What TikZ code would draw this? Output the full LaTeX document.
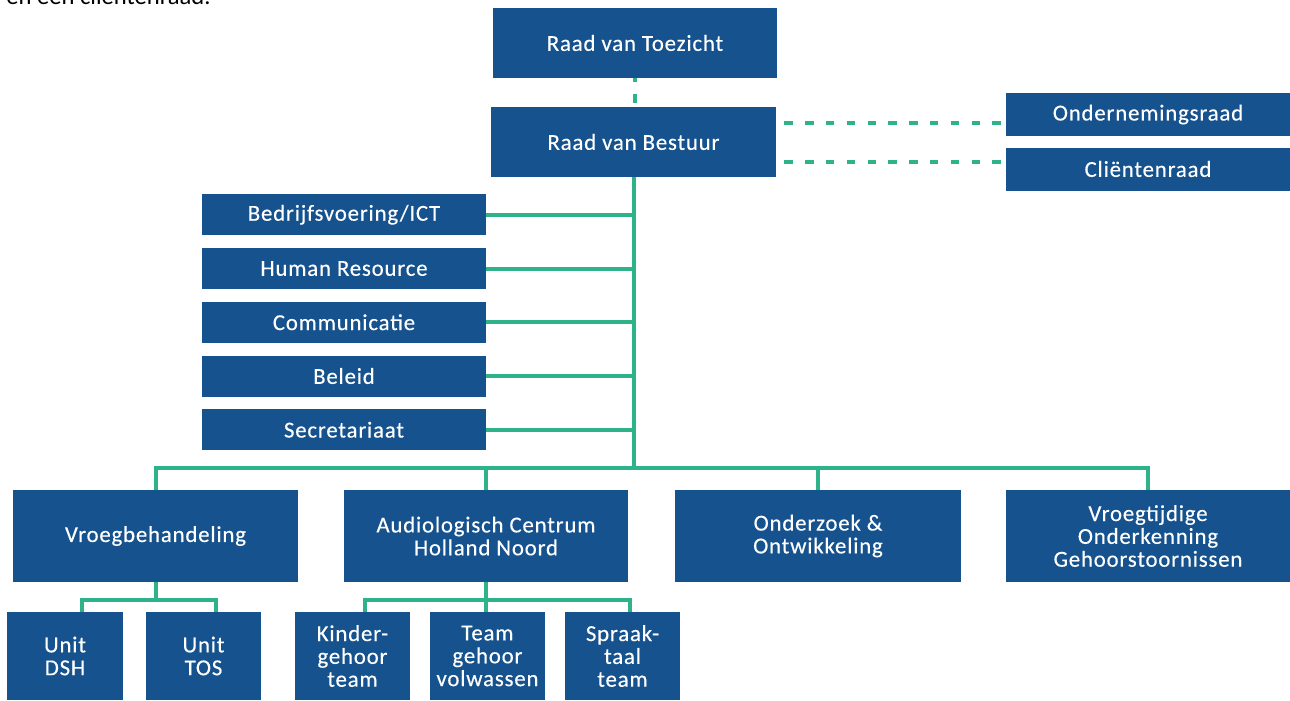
\documentclass[tikz,border=0pt]{standalone}
\usepackage{fontspec}
\setmainfont{Carlito}
\newfontfamily\orgfont[FakeBold=0.3, LetterSpace=3.5]{Carlito}
\newcommand\orgsize{\fontsize{13}{13}\selectfont\lineskiplimit=-20pt\relax}
\usetikzlibrary{calc}
\definecolor{orgblauw}{RGB}{22,82,142}
\definecolor{orggroen}{RGB}{46,178,138}
\tikzset{
 orgbox/.style={fill=orgblauw, text=white, inner sep=0pt, align=center, font=\orgfont\orgsize},
 orgline/.style={orggroen, line width=0.08cm},
 dashlink/.style={orggroen, line width=0.08cm, dash pattern=on 0.17cm off 0.246cm}
}
\begin{document}
\begin{tikzpicture}[x=0.02cm, y=-0.02cm]
\useasboundingbox (0,0) rectangle (1290,700);
\clip (0,0) rectangle (1290,700);
\node[anchor=base west, inner sep=0pt, font=\fontsize{14}{14}\selectfont] (intro) at (6,4) {en een cliëntenraad.};
% bestuur
\node[orgbox, minimum width=5.68cm, minimum height=1.4cm] (rvt) at (635,43) {Raad van Toezicht};
\node[orgbox, minimum width=5.7cm, minimum height=1.4cm] (rvb) at (633.5,142) {Raad van Bestuur};
\node[orgbox, minimum width=5.68cm, minimum height=0.86cm] (or) at (1148,114.5) {Ondernemingsraad};
\node[orgbox, minimum width=5.68cm, minimum height=0.86cm] (cr) at (1148,169) {Cliëntenraad};
\draw[dashlink, dash phase=0.1cm] (rvt.south) -- (rvt.south |- rvb.north);
\coordinate (d1) at ([yshift=-0.17cm]or.west);
\coordinate (d2) at ([yshift=0.14cm]cr.west);
\draw[dashlink, dash phase=0.256cm] (d1 -| rvb.east) -- (d1);
\draw[dashlink, dash phase=0.256cm] (d2 -| rvb.east) -- (d2);
% staf
\coordinate (balk) at (0,468);
\draw[orgline] (rvb.south) -- (rvb.south |- balk);
\foreach \naam [count=\i] in {Bedrijfsvoering/ICT, Human Resource, Communicatie, Beleid, Secretariaat} {
 \node[orgbox, minimum width=5.68cm, minimum height=0.82cm] (s\i) at (344, {161+53.75*\i}) {\naam};
 \draw[orgline] (s\i.east) -- (s\i.east -| rvb.south);
}
% afdelingen
\node[orgbox, minimum width=5.7cm, minimum height=1.84cm] (vb) at (155.5,536) {Vroegbehandeling};
\node[orgbox, minimum width=5.68cm, minimum height=1.84cm] (ac) at (486,536) {Audiologisch Centrum\\Holland Noord};
\node[orgbox, minimum width=5.72cm, minimum height=1.84cm] (oo) at (818,536) {Onderzoek \&\\Ontwikkeling};
\node[orgbox, minimum width=5.68cm, minimum height=1.84cm] (vog) at (1148,536) {Vroegtijdige\\Onderkenning\\Gehoorstoornissen};
\draw[orgline] (vb.north) |- (vog.north |- balk) -- (vog.north);
\foreach \n in {ac,oo} \draw[orgline] (\n.north) -- (\n.north |- balk);
% units en teams
\node[orgbox, minimum width=2.32cm, minimum height=1.76cm] (dsh) at (65,656) {Unit\\DSH};
\node[orgbox, minimum width=2.3cm, minimum height=1.76cm] (tos) at (203.5,656) {Unit\\TOS};
\node[orgbox, minimum width=2.3cm, minimum height=1.76cm] (kgt) at (352.5,656) {Kinder-\\gehoor\\team};
\node[orgbox, minimum width=2.3cm, minimum height=1.76cm] (tgv) at (487.5,656) {Team\\gehoor\\volwassen};
\node[orgbox, minimum width=2.3cm, minimum height=1.76cm] (stt) at (622.5,656) {Spraak-\\taal\\team};
\coordinate (subbalk) at (0,600);
\coordinate (dshtop) at ([xshift=0.34cm]dsh.north);
\coordinate (tostop) at ([xshift=0.25cm]tos.north);
\coordinate (kgttop) at ([xshift=0.25cm]kgt.north);
\coordinate (stttop) at ([xshift=0.15cm]stt.north);
\draw[orgline] (vb.south) -- (vb.south |- subbalk);
\draw[orgline] (dshtop) |- (subbalk -| tostop) -- (tostop);
\draw[orgline] (ac.south) -- (ac.south |- tgv.north);
\draw[orgline] (kgttop) |- (subbalk -| stttop) -- (stttop);
\end{tikzpicture}
\end{document}
